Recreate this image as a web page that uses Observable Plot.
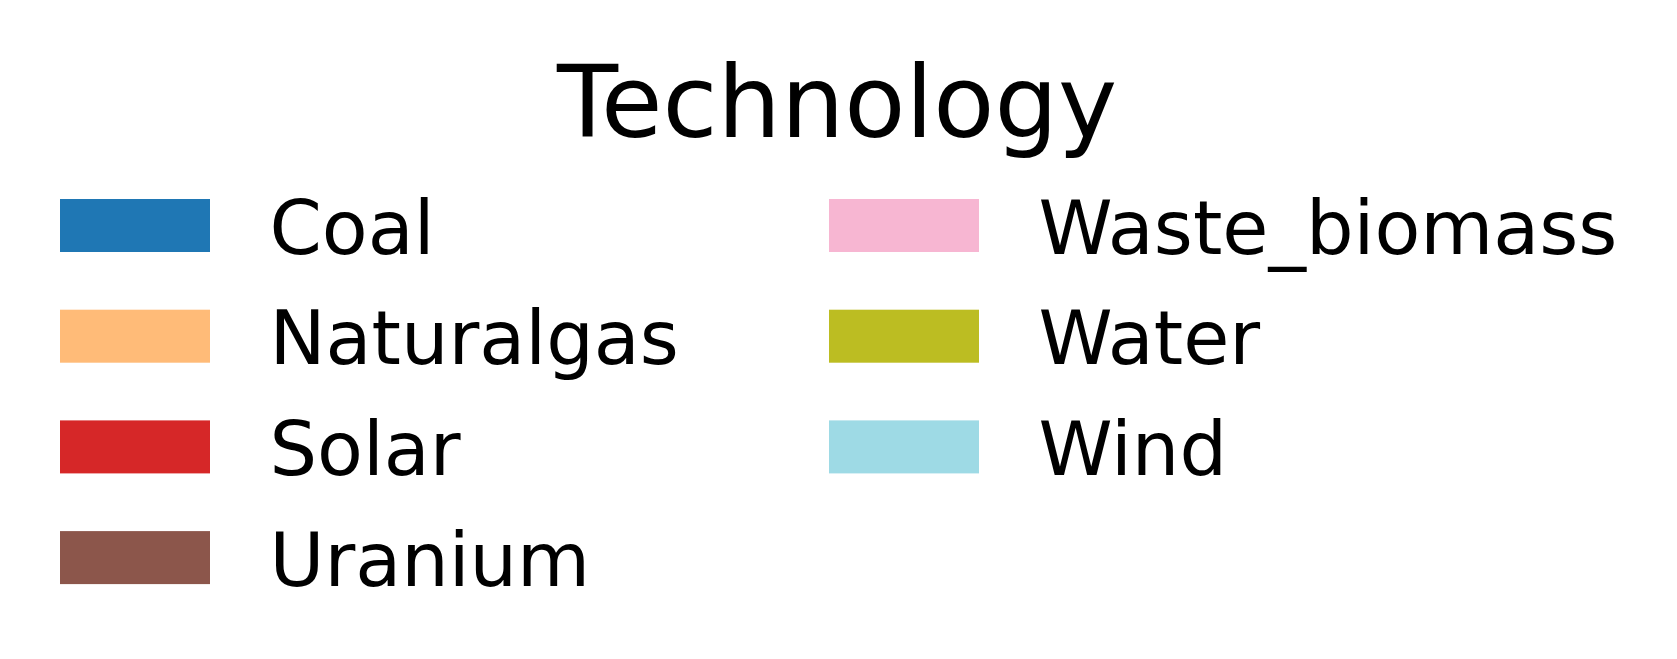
<!DOCTYPE html>
<html>
<head>
<meta charset="utf-8">
<script src="https://cdn.jsdelivr.net/npm/d3@7"></script>
<script src="https://cdn.jsdelivr.net/npm/@observablehq/plot@0.6"></script>
<style>
  html, body { margin: 0; padding: 0; background: #fff; overflow: hidden; }
</style>
</head>
<body>
<div id="chart"></div>
<script>
// legend entries, matplotlib tab20-style colours
const legendTitle = "Technology"
const technologies = ["Coal", "Naturalgas", "Solar", "Uranium", "Waste_biomass", "Water", "Wind"]
const colors = ["#1f77b4", "#ffbb78", "#d62728", "#8c564b", "#f7b6d2", "#bcbd22", "#9edae5"]
const legendCol = [0, 0, 0, 0, 1, 1, 1]
const legendRow = [0, 1, 2, 3, 0, 1, 2]

const entries = technologies.map((t, i) => ({tech: t, col: legendCol[i], row: legendRow[i]}))

const W = 1677, H = 659
const colPitch = 769, swatchW = 150, swatchH = 53
const rowPitch = 110.7, firstRowCenter = 225.5

let chart = Plot.plot({
  width: W,
  height: H,
  margin: 0,
  style: {
    fontFamily: "DejaVu Sans",
    background: "white",
    color: "black"
  },
  x: {type: "linear", domain: [0, 2], range: [60, 60 + 2 * colPitch], axis: null},
  y: {type: "linear", domain: [0, 4], range: [firstRowCenter - rowPitch / 2, firstRowCenter + 3.5 * rowPitch], axis: null},
  color: {type: "ordinal", domain: technologies, range: colors},
  marks: [
    Plot.text([legendTitle], {
      frameAnchor: "top",
      lineAnchor: "top",
      text: d => d,
      fontSize: 100,
      fill: "black",
      dx: -2,
      dy: 65
    }),
    Plot.rect(entries, {
      x1: "col",
      x2: d => d.col + swatchW / colPitch,
      y1: "row",
      y2: d => d.row + 1,
      insetTop: (rowPitch - swatchH) / 2,
      insetBottom: (rowPitch - swatchH) / 2,
      fill: "tech"
    }),
    Plot.text(entries, {
      x: "col",
      y: d => d.row + 0.5,
      text: "tech",
      textAnchor: "start",
      lineAnchor: "middle",
      fontSize: 75,
      fill: "black",
      dx: swatchW + 59,
      dy: 3.5
    })
  ]
})

d3.select("#chart").append(() => chart)
</script>
</body>
</html>
